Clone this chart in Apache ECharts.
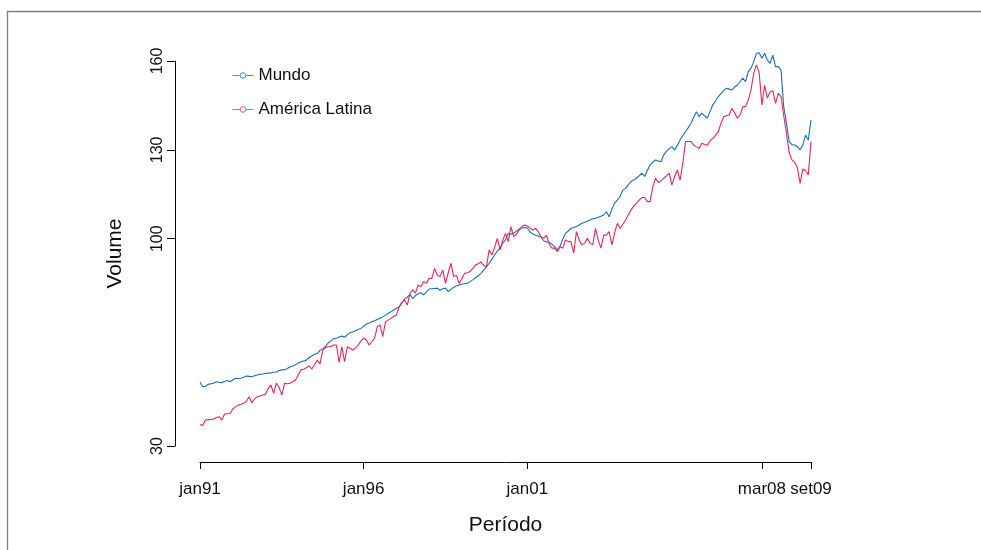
<!DOCTYPE html>
<html>
<head>
<meta charset="utf-8">
<script src="https://cdn.jsdelivr.net/npm/echarts@6/dist/echarts.min.js"></script>
<style>
html,body{margin:0;padding:0;background:#fff;}
#chart{width:981px;height:550px;}
</style>
</head>
<body>
<div id="chart"></div>
<script>
// Monthly series from jan91 to set09 (225 months)
const years = [91,92,93,94,95,96,97,98,99,'00','01','02','03','04','05','06','07','08','09'];
const monthNames = ['jan','fev','mar','abr','mai','jun','jul','ago','set','out','nov','dez'];
const tickLabels = ['jan91','jan96','jan01','mar08','set09'];
const yTicks = [30,100,130,160];

const mundo = [
51.5,50.0,50.2,50.8,51.0,51.2,51.7,51.5,51.4,51.8,
52.1,51.7,52.3,52.9,52.7,52.9,53.2,53.6,53.5,53.4,
53.7,54.0,54.2,54.3,54.5,54.6,54.7,54.9,55.0,55.5,
55.7,55.7,56.2,56.7,57.0,57.4,58.0,58.4,58.7,59.0,
59.8,60.4,61.0,61.3,62.3,62.8,63.6,64.8,65.5,66.2,
66.4,66.8,67.1,66.7,67.6,68.3,68.5,68.9,69.3,69.7,
70.5,71.2,71.5,72.0,72.3,72.7,73.1,73.6,74.2,74.8,
75.3,75.9,76.5,76.9,78.3,79.6,80.3,81.1,79.8,80.8,
81.4,81.8,81.0,82.0,83.0,83.1,83.2,83.3,82.6,83.1,
83.3,82.1,82.9,83.6,84.0,84.4,84.6,84.8,84.9,85.5,
86.1,86.8,87.5,88.3,89.4,90.5,91.7,93.0,94.5,95.8,
96.8,98.5,99.6,101.8,101.5,101.8,102.5,103.3,103.5,103.8,
103.6,102.2,101.6,101.2,100.9,100.5,99.3,99.0,98.7,98.2,
97.3,96.2,97.5,99.8,101.8,102.6,103.5,103.8,104.1,104.6,
105.2,105.5,106.0,106.3,106.7,106.9,107.2,107.6,108.0,109.1,
107.4,110.0,112.0,113.0,114.2,116.4,117.0,118.2,119.3,119.8,
120.4,121.2,122.1,121.0,123.0,124.9,125.8,126.6,126.2,126.0,
128.3,129.5,130.4,131.1,130.0,131.5,133.3,134.8,136.1,137.5,
139.0,141.0,142.9,141.2,142.4,141.5,140.7,143.0,145.2,146.5,
148.0,149.0,150.0,150.8,150.5,150.2,151.2,151.9,153.0,154.2,
153.0,156.4,157.5,159.8,162.6,162.8,160.9,162.6,160.3,159.2,
162.0,158.1,158.1,157.0,144.6,139.0,132.8,131.8,131.6,131.1,
130.0,131.6,135.0,133.3,140.1
];

const americaLatina = [
37.3,36.9,38.8,38.9,39.0,39.1,39.6,39.9,38.8,40.8,
40.9,41.0,42.5,43.2,43.8,44.0,44.4,45.0,46.6,44.6,
45.8,46.6,46.9,47.2,47.5,49.5,50.6,47.8,51.2,49.8,
47.2,51.2,51.0,51.2,51.8,52.3,54.0,55.7,55.9,56.4,
57.1,56.0,57.5,59.0,57.7,62.4,63.3,63.5,63.5,64.1,
64.1,58.2,63.5,58.5,63.5,63.0,62.4,63.0,64.1,65.5,
66.4,65.8,64.1,65.2,66.4,70.3,70.9,66.9,72.0,72.5,
73.1,73.7,74.2,77.0,78.5,79.3,77.6,81.6,82.7,81.6,
84.4,83.8,85.5,84.9,86.6,86.6,90.0,87.7,87.2,89.4,
84.9,88.5,91.7,87.2,87.7,84.9,86.5,88.3,88.5,88.9,
90.0,91.1,91.5,92.2,91.0,90.5,96.2,94.5,97.0,100.1,
96.2,99.5,101.8,99.0,104.1,100.7,101.5,102.9,104.1,104.6,
104.3,103.5,102.9,103.5,102.4,100.7,100.1,101.2,98.2,96.8,
96.8,95.6,97.3,96.8,99.6,99.0,99.0,95.1,102.4,99.6,
97.9,98.5,100.1,98.5,97.9,103.5,99.5,96.8,101.2,101.2,
102.4,97.9,102.0,105.2,103.5,104.8,106.3,108.0,109.7,111.0,
112.0,113.0,113.9,113.9,112.5,112.5,117.5,120.4,119.0,119.5,
120.4,121.2,122.1,118.1,121.0,123.2,119.8,125.5,132.8,132.8,
132.8,131.6,131.0,130.5,132.2,131.8,131.6,133.0,133.9,135.0,
136.1,139.0,141.2,141.5,141.8,144.0,142.5,140.7,141.8,144.6,
144.6,146.8,150.2,155.9,158.7,156.0,145.2,151.8,147.5,149.5,
150.0,145.7,149.1,148.0,141.5,135.6,129.0,126.6,125.8,124.0,
118.7,123.5,123.0,121.5,132.8
];

// Build month categories jan91 ... set09
const months = [];
for (const y of years) {
  for (const m of monthNames) {
    if (months.length < mundo.length) months.push(m + y);
  }
}

const FONT = 'Liberation Sans';
const BLUE = '#1f6db7';
const RED = '#e6275c';
const BLUE_L = '#4a8ed0';
const RED_L = '#ee5a80';

const chart = echarts.init(document.getElementById('chart'), null, {renderer: 'canvas'});
const isTick = (idx, val) => tickLabels.indexOf(val) >= 0;

chart.setOption({
  animation: false,
  backgroundColor: '#fff',
  grid: {left: 200, right: 170, top: 61, bottom: 104},
  legend: {
    orient: 'vertical',
    left: 227,
    top: 62,
    itemWidth: 21,
    itemHeight: 7,
    itemGap: 17,
    textStyle: {fontFamily: FONT, fontSize: 17, color: '#111'},
    data: [
      {name: 'Mundo', lineStyle: {color: BLUE_L, width: 1}, itemStyle: {color: '#fff', borderColor: BLUE_L, borderWidth: 1}},
      {name: 'América Latina', lineStyle: {color: RED_L, width: 1}, itemStyle: {color: '#fff', borderColor: RED_L, borderWidth: 1}}
    ]
  },
  xAxis: {
    type: 'category',
    data: months,
    boundaryGap: false,
    offset: 16,
    name: 'Período',
    nameLocation: 'middle',
    nameGap: 53,
    nameTextStyle: {fontFamily: FONT, fontSize: 21, color: '#111'},
    axisLine: {lineStyle: {color: '#000', width: 1}},
    axisTick: {show: true, interval: isTick, length: 7, lineStyle: {color: '#000', width: 1}},
    axisLabel: {interval: isTick, margin: 19, fontFamily: FONT, fontSize: 17, color: '#111'},
    splitLine: {show: false}
  },
  yAxis: {
    type: 'value',
    min: 30,
    max: 160,
    offset: 25,
    name: 'Volume',
    nameLocation: 'middle',
    nameGap: 49,
    nameTextStyle: {fontFamily: FONT, fontSize: 21, color: '#111'},
    axisLine: {show: true, lineStyle: {color: '#000', width: 1}},
    axisTick: {show: true, length: 8, customValues: yTicks, lineStyle: {color: '#000', width: 1}},
    axisLabel: {customValues: yTicks, rotate: 90, margin: 9, fontFamily: FONT, fontSize: 16, color: '#111'},
    splitLine: {show: false}
  },
  graphic: [{
    type: 'rect',
    shape: {x: 7.5, y: 11.5, width: 1000, height: 600},
    style: {fill: 'none', stroke: '#808080', lineWidth: 1.3},
    silent: true
  }],
  series: [
    {
      name: 'Mundo', type: 'line', data: mundo, clip: false,
      symbol: 'circle', showSymbol: false,
      lineStyle: {color: BLUE, width: 1.1}, itemStyle: {color: BLUE}
    },
    {
      name: 'América Latina', type: 'line', data: americaLatina, clip: false,
      symbol: 'circle', showSymbol: false,
      lineStyle: {color: RED, width: 1.1}, itemStyle: {color: RED}
    }
  ]
});
</script>
</body>
</html>
